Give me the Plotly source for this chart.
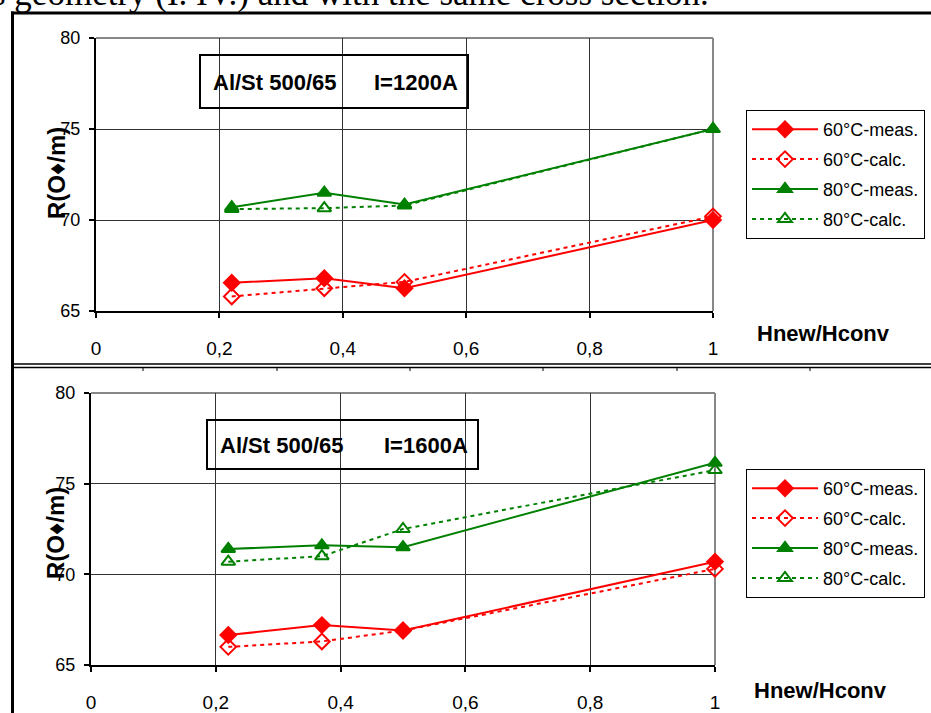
import plotly.graph_objects as go

W, H = 931, 713

# ---------------- data ----------------
x_vals = [0.22, 0.37, 0.5, 1.0]

# panel 1: I=1200A
p1_60_meas = [66.55, 66.8, 66.25, 70.0]
p1_60_calc = [65.8, 66.25, 66.6, 70.2]
p1_80_meas = [70.7, 71.5, 70.85, 75.0]
p1_80_calc = [70.6, 70.65, 70.8, 75.0]

# panel 2: I=1600A
p2_60_meas = [66.65, 67.2, 66.9, 70.7]
p2_60_calc = [66.0, 66.3, 66.9, 70.3]
p2_80_meas = [71.4, 71.6, 71.5, 76.15]
p2_80_calc = [70.7, 71.0, 72.5, 75.75]

series_names = ["60°C-meas.", "60°C-calc.", "80°C-meas.", "80°C-calc."]
panel_titles = [("Al/St 500/65", "I=1200A"), ("Al/St 500/65", "I=1600A")]

x_tickvals = [0, 0.2, 0.4, 0.6, 0.8, 1.0]
x_ticktext = ["0", "0,2", "0,4", "0,6", "0,8", "1"]
y_tickvals = [65, 70, 75, 80]
y_ticktext = ["65", "70", "75", "80"]

RED = "#FF0000"
GREEN = "#008000"
styles = [
    dict(color=RED, dash="solid", symbol="diamond"),
    dict(color=RED, dash="4px,4px", symbol="diamond-open"),
    dict(color=GREEN, dash="solid", symbol="triangle-up"),
    dict(color=GREEN, dash="4px,4px", symbol="triangle-up-open"),
]


def px_x(p):
    return p / W


def px_y(p):
    return 1 - p / H


fig = go.Figure()

panels = [
    dict(data=[p1_60_meas, p1_60_calc, p1_80_meas, p1_80_calc], xa="x", ya="y", legend="legend"),
    dict(data=[p2_60_meas, p2_60_calc, p2_80_meas, p2_80_calc], xa="x2", ya="y2", legend="legend2"),
]

for pi, p in enumerate(panels):
    for si, (vals, st) in enumerate(zip(p["data"], styles)):
        fig.add_trace(go.Scatter(
            x=x_vals, y=vals, name=series_names[si], mode="lines+markers",
            xaxis=p["xa"], yaxis=p["ya"], legend=p["legend"],
            legendgroup=f"g{pi}{si}",
            line=dict(color=st["color"], width=2, dash=st["dash"]),
            marker=dict(symbol=st["symbol"], size=12, color=st["color"],
                        line=dict(color=st["color"], width=2)),
            cliponaxis=False,
        ))

# plot area geometry (pixels)
geo = [
    dict(x0=96, x1=713, y0=38, y1=311),
    dict(x0=91, x1=715, y0=393, y1=665),
]

axis_common_x = dict(
    range=[0, 1], tickvals=x_tickvals, ticktext=x_ticktext,
    showline=True, linecolor="black", linewidth=2,
    ticks="outside", ticklen=5, tickcolor="black", tickwidth=1.5,
    showgrid=True, gridcolor="#333333", gridwidth=1,
    zeroline=False, automargin=False,
    tickfont=dict(family="Liberation Sans Narrow, Liberation Sans, Arial", size=19, color="black"),
    ticklabelstandoff=14,
    fixedrange=True,
)
axis_common_y = dict(
    range=[65, 80], tickvals=y_tickvals, ticktext=y_ticktext,
    showline=True, linecolor="black", linewidth=2,
    ticks="outside", ticklen=5, tickcolor="black", tickwidth=1.5,
    showgrid=True, gridcolor="#333333", gridwidth=1,
    zeroline=False, automargin=False,
    tickfont=dict(family="Liberation Sans, Arial", size=18, color="black"),
    ticklabelstandoff=5,
    fixedrange=True,
)

fig.update_layout(
    xaxis=dict(domain=[px_x(geo[0]["x0"]), px_x(geo[0]["x1"])], anchor="y", **axis_common_x),
    yaxis=dict(domain=[px_y(geo[0]["y1"]), px_y(geo[0]["y0"])], anchor="x", **axis_common_y),
    xaxis2=dict(domain=[px_x(geo[1]["x0"]), px_x(geo[1]["x1"])], anchor="y2", **axis_common_x),
    yaxis2=dict(domain=[px_y(geo[1]["y1"]), px_y(geo[1]["y0"])], anchor="x2", **axis_common_y),
)

legend_common = dict(
    bgcolor="white", bordercolor="black", borderwidth=1,
    font=dict(family="Liberation Sans, Arial", size=18, color="black"),
    itemwidth=66, tracegroupgap=3.5, xanchor="left", yanchor="top",
    itemclick=False, itemdoubleclick=False,
)
fig.update_layout(
    legend=dict(x=px_x(746), y=px_y(110), **legend_common),
    legend2=dict(x=px_x(746), y=px_y(469), **legend_common),
)

shapes = []
annotations = []

# plot-area grey border (top & right)
for xr, yr in [("x", "y"), ("x2", "y2")]:
    shapes.append(dict(type="line", xref=f"{xr} domain", yref=f"{yr} domain",
                       x0=0, x1=1, y0=1, y1=1, line=dict(color="#888888", width=2), layer="below"))
    shapes.append(dict(type="line", xref=f"{xr} domain", yref=f"{yr} domain",
                       x0=1, x1=1, y0=0, y1=1, line=dict(color="#888888", width=2), layer="below"))

# title boxes
boxes = [
    dict(x0=200, x1=468, y0=55, y1=108, t1x=211, t2x=372, ty=82),
    dict(x0=207, x1=478, y0=420, y1=469, t1x=218, t2x=382, ty=445),
]
for b, (t1, t2) in zip(boxes, panel_titles):
    shapes.append(dict(type="rect", xref="paper", yref="paper",
                       x0=px_x(b["x0"]), x1=px_x(b["x1"]), y0=px_y(b["y1"]), y1=px_y(b["y0"]),
                       line=dict(color="black", width=2), fillcolor="rgba(0,0,0,0)"))
    for tx, t in [(b["t1x"], t1), (b["t2x"], t2)]:
        annotations.append(dict(text=f"<b>{t}</b>", xref="paper", yref="paper",
                                x=px_x(tx), y=px_y(b["ty"]), xanchor="left", yanchor="middle",
                                showarrow=False,
                                font=dict(family="Liberation Sans, Arial", size=22, color="black")))

# axis titles
for (xt, yt) in [(823, 333), (820, 690)]:
    annotations.append(dict(text="<b>Hnew/Hconv</b>", xref="paper", yref="paper",
                            x=px_x(xt), y=px_y(yt), xanchor="center", yanchor="middle",
                            showarrow=False,
                            font=dict(family="Liberation Sans, Arial", size=22, color="black")))
for (xt, yt) in [(56, 173), (55, 533)]:
    annotations.append(dict(text="<b>R(O♦/m)</b>", xref="paper", yref="paper",
                            x=px_x(xt), y=px_y(yt), xanchor="center", yanchor="middle",
                            textangle=-90, showarrow=False,
                            font=dict(family="Liberation Sans, Arial", size=24, color="black")))

# document text cut at the top
annotations.append(dict(text="s geometry (I. IV.) and with the same cross section.",
                        xref="paper", yref="paper", x=px_x(-10), y=px_y(15),
                        xanchor="left", yanchor="bottom", showarrow=False,
                        font=dict(family="Liberation Serif, Times New Roman", size=35, color="black")))

# document frame lines
shapes += [
    dict(type="line", xref="paper", yref="paper", x0=px_x(12.5), x1=px_x(12.5), y0=px_y(11.5), y1=px_y(713),
         line=dict(color="black", width=3)),
    dict(type="line", xref="paper", yref="paper", x0=px_x(11), x1=px_x(931), y0=px_y(13), y1=px_y(13),
         line=dict(color="black", width=3)),
    dict(type="line", xref="paper", yref="paper", x0=px_x(12), x1=px_x(931), y0=px_y(364), y1=px_y(364),
         line=dict(color="black", width=1.5)),
    dict(type="line", xref="paper", yref="paper", x0=px_x(12), x1=px_x(931), y0=px_y(367.5), y1=px_y(367.5),
         line=dict(color="black", width=1.5)),
]
for mx in [143, 277, 410, 543, 677, 810]:
    shapes.append(dict(type="line", xref="paper", yref="paper", x0=px_x(mx), x1=px_x(mx),
                       y0=px_y(368), y1=px_y(371), line=dict(color="black", width=1)))

fig.update_layout(
    width=W, height=H, autosize=False,
    margin=dict(l=0, r=0, t=0, b=0),
    paper_bgcolor="white", plot_bgcolor="white",
    shapes=shapes, annotations=annotations,
    showlegend=True,
)

fig.write_html("out.html", config={"displayModeBar": False})
